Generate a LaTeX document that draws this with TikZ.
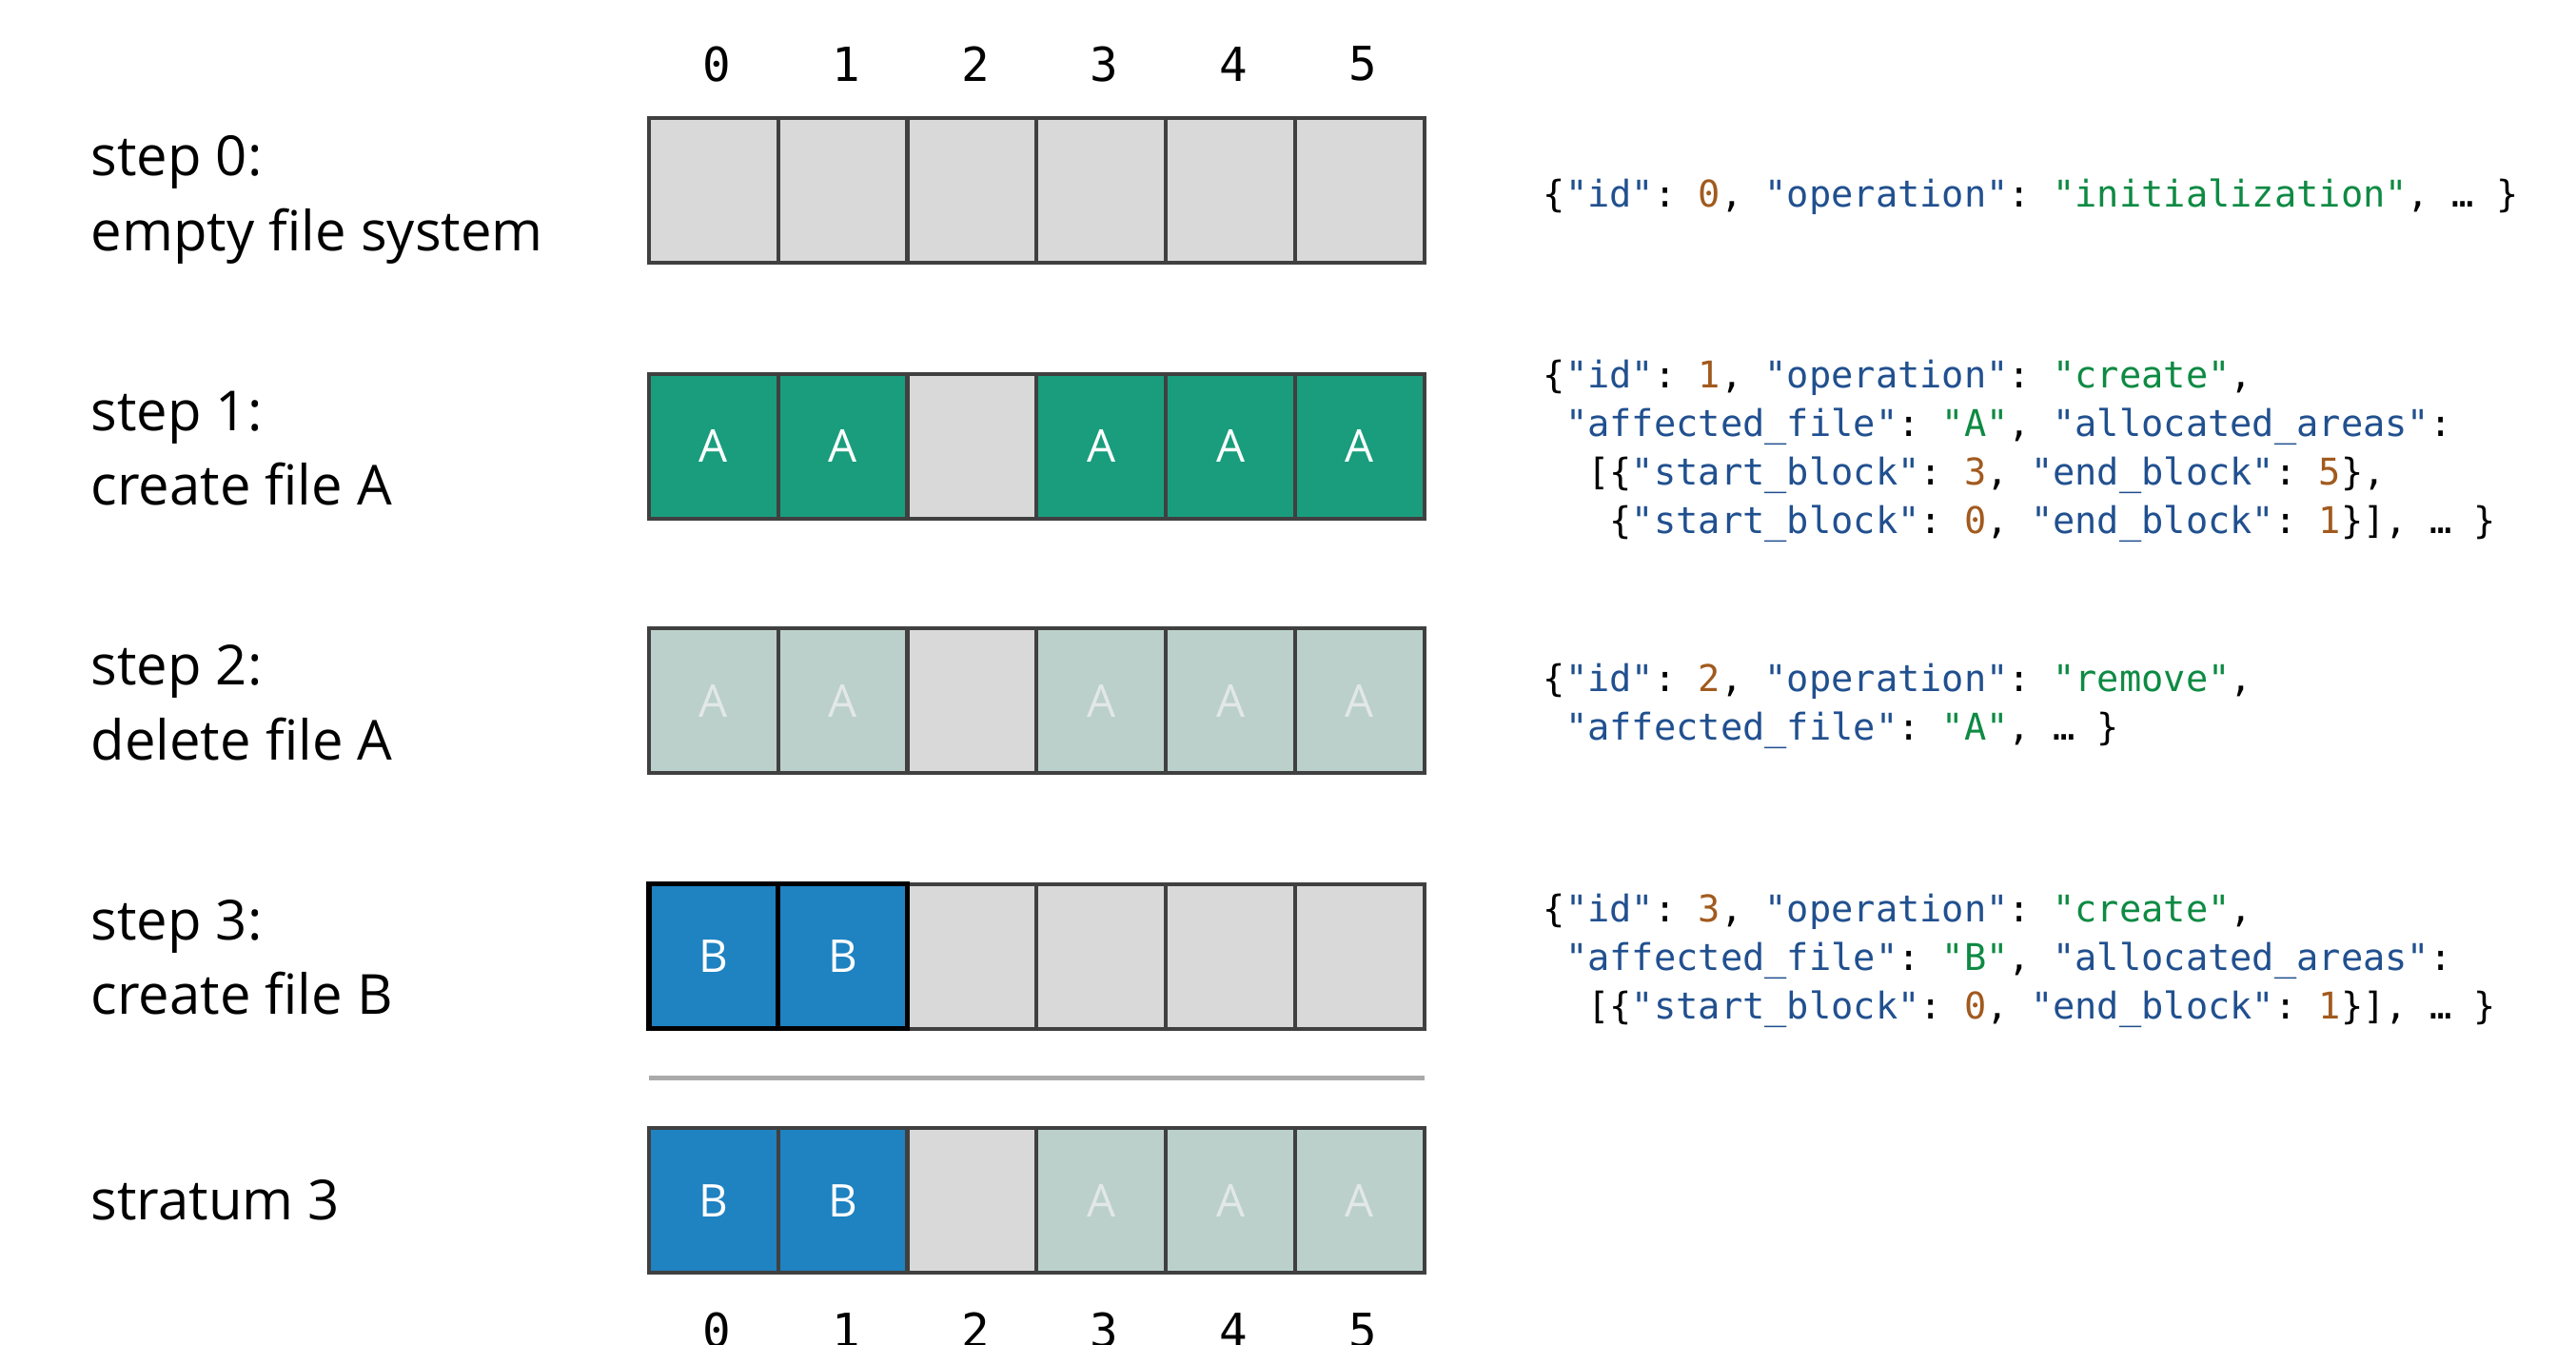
\documentclass[tikz,border=0pt]{standalone}
\usepackage{fontspec}
\setmainfont{Open Sans}
\newfontfamily\jsonfont{DejaVu Sans Mono}
\definecolor{cgray}{HTML}{D9D9D9}
\definecolor{cborder}{HTML}{404040}
\definecolor{cgreen}{HTML}{199D7D}
\definecolor{cfade}{HTML}{BBD0CB}
\definecolor{cfadetext}{HTML}{E2E8E6}
\definecolor{cblue}{HTML}{1F82C1}
\definecolor{csep}{HTML}{AAAAAA}
\definecolor{jkey}{HTML}{21508F}
\definecolor{jnum}{HTML}{A15A1E}
\definecolor{jstr}{HTML}{0E8A43}
\newcommand\jk[1]{\textcolor{jkey}{"#1"}}
\newcommand\js[1]{\textcolor{jstr}{"#1"}}
\newcommand\jn[1]{\textcolor{jnum}{#1}}
\newcommand\ind{\hphantom{0}}
\newcommand\cellrow[3]{%
  \foreach \c/\fc/\tc/\tx in {#3} {%
    \node[cellbox, fill=\fc, text=\tc] (#1\c) at ({395+78.667*(\c+0.5)},#2) {\tx};}}
\begin{document}
\begin{tikzpicture}[x=0.017264cm, y=-0.017264cm,
  cellbox/.style={draw=cborder, line width=1.2pt, minimum width=1.3582cm,
    minimum height=1.5192cm, inner sep=0pt, outer sep=0pt,
    font=\fontsize{13.5}{16}\selectfont},
  idx/.style={font=\jsonfont\fontsize{14}{16}\selectfont, inner sep=0pt},
  lbl/.style={anchor=mid west, inner sep=0pt, font=\fontsize{16.5}{20}\selectfont},
  json/.style={anchor=mid west, inner sep=0pt,
    font=\jsonfont\fontsize{11}{14}\selectfont\frenchspacing},
  sepline/.style={draw=csep, line width=1.5pt}]
\useasboundingbox (0,0) rectangle (1568,818);

% column indices
\foreach \c in {0,...,5} \node[idx] (t\c) at ({397+78.667*(\c+0.5)},39) {\c};
\foreach \c in {0,...,5} \node[idx] (b\c) at ({397+78.667*(\c+0.5)},809.5) {\c};

% rows of blocks
\cellrow{a}{116}{0/cgray/black/{},1/cgray/black/{},2/cgray/black/{},3/cgray/black/{},4/cgray/black/{},5/cgray/black/{}}
\cellrow{r}{271.5}{2/cgray/black/{},0/cgreen/white/A,1/cgreen/white/A,3/cgreen/white/A,4/cgreen/white/A,5/cgreen/white/A}
\cellrow{d}{426.5}{0/cfade/cfadetext/A,1/cfade/cfadetext/A,2/cgray/black/{},3/cfade/cfadetext/A,4/cfade/cfadetext/A,5/cfade/cfadetext/A}
\cellrow{e}{582}{2/cgray/black/{},3/cgray/black/{},4/cgray/black/{},5/cgray/black/{}}
\foreach \c in {0,1}
  \node[cellbox, fill=cblue, text=white, draw=black, line width=1.5pt] (e\c) at ({395+78.667*(\c+0.5)},582) {B};
\cellrow{s}{730.5}{0/cblue/white/B,1/cblue/white/B,2/cgray/black/{},3/cfade/cfadetext/A,4/cfade/cfadetext/A,5/cfade/cfadetext/A}

% separator
\coordinate (sepL) at (395,656);
\coordinate (sepR) at (867,656);
\draw[sepline] (sepL) -- (sepR);

% left labels
\node[lbl] (s0a) at (55,101.5) {step 0:};
\node[lbl] (s0b) at (55,147) {empty file system};
\node[lbl] (s1a) at (55,256.5) {step 1:};
\node[lbl] (s1b) at (55,302) {create file A};
\node[lbl] (s2a) at (55,411.5) {step 2:};
\node[lbl] (s2b) at (55,457) {delete file A};
\node[lbl] (s3a) at (55,566.5) {step 3:};
\node[lbl] (s3b) at (55,612) {create file B};
\node[lbl] (s4a) at (55,737) {stratum 3};

% JSON log entries
\node[json] (j0a) at (939,120.5) {\{\jk{id}: \jn{0}, \jk{operation}: \js{initialization}, … \}};

\node[json] (j1a) at (939,230.5) {\{\jk{id}: \jn{1}, \jk{operation}: \js{create},};
\node[json] (j1b) at (939,260) {\ind\jk{affected\_file}: \js{A}, \jk{allocated\_areas}:};
\node[json] (j1c) at (939,289.8) {\ind\ind[\{\jk{start\_block}: \jn{3}, \jk{end\_block}: \jn{5}\},};
\node[json] (j1d) at (939,319.3) {\ind\ind\ind\{\jk{start\_block}: \jn{0}, \jk{end\_block}: \jn{1}\}], … \}};

\node[json] (j2a) at (939,415.5) {\{\jk{id}: \jn{2}, \jk{operation}: \js{remove},};
\node[json] (j2b) at (939,445) {\ind\jk{affected\_file}: \js{A}, … \}};

\node[json] (j3a) at (939,555.5) {\{\jk{id}: \jn{3}, \jk{operation}: \js{create},};
\node[json] (j3b) at (939,585) {\ind\jk{affected\_file}: \js{B}, \jk{allocated\_areas}:};
\node[json] (j3c) at (939,614.5) {\ind\ind[\{\jk{start\_block}: \jn{0}, \jk{end\_block}: \jn{1}\}], … \}};
\end{tikzpicture}
\end{document}
